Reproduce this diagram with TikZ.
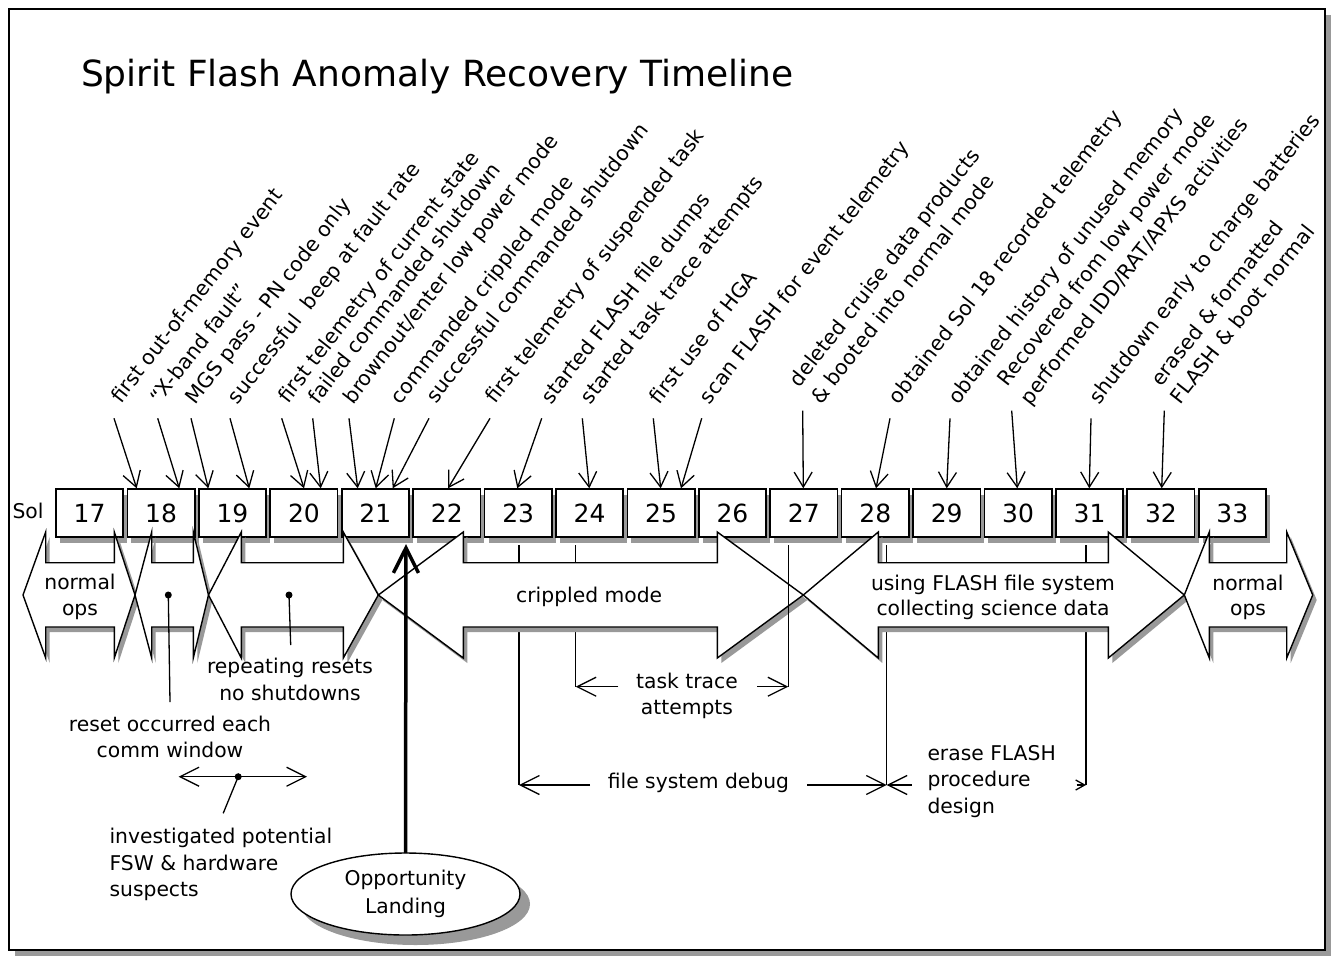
\documentclass[tikz,border=0pt]{standalone}
\usepackage{fontspec}
\setmainfont{DejaVu Sans}
\usetikzlibrary{arrows.meta,shadows,shapes.geometric}
\definecolor{shadowgray}{gray}{0.6}
\begin{document}
\begin{tikzpicture}[x=1pt,y=-1pt,
  every node/.style={inner sep=0pt, outer sep=0pt},
  txt/.style={font=\fontsize{20.3}{24}\selectfont, anchor=base},
  txtl/.style={font=\fontsize{20.3}{24}\selectfont, anchor=base west},
  lbl/.style={font=\fontsize{20.5}{24}\selectfont, anchor=base west, rotate=52},
  solbox/.style={draw, line width=1.7pt, fill=white, minimum width=67.3pt, minimum height=48pt,
    font=\fontsize{25}{28}\selectfont,
    drop shadow={shadow xshift=4pt, shadow yshift=-6pt, fill=shadowgray, opacity=1}},
  ptr/.style={line width=1.3pt, -{Straight Barb[length=15pt,width=18pt]}},
  hptr/.style={line width=1.3pt, -{Straight Barb[length=19pt,width=19pt]}},
  dotn/.style={circle, fill=black, minimum size=7pt},
  bline/.style={line width=1.3pt},
  phase/.style={line width=1.4pt, fill=white},
]
\useasboundingbox (0,0) rectangle (1332,956);
% frame
\fill[shadowgray] (15,15) rectangle (1331,956);
\draw[line width=1.5pt, fill=white] (9,9) rectangle (1325,950);

% title
\node[anchor=base west, font=\fontsize{36}{40}\selectfont] (title) at (81,86) {Spirit Flash Anomaly Recovery Timeline};

% event labels
\node[lbl] (l1) at (121,404) {first out-of-memory event};
\node[lbl] (l2) at (160,405) {“X-band fault”};
\node[lbl] (l3) at (195.5,405) {MGS pass - PN code only};
\node[lbl] (l4) at (237.5,405) {successful\ \ beep at fault rate};
\node[lbl] (l5) at (288,404) {first telemetry of current state};
\node[lbl] (l6) at (318,405) {failed commanded shutdown};
\node[lbl] (l7) at (353,405) {brownout/enter low power mode};
\node[lbl] (l8) at (400.5,405) {commanded crippled mode};
\node[lbl] (l9) at (436,404) {successful commanded shutdown};
\node[lbl] (l10) at (495.5,404.5) {first telemetry of suspended task};
\node[lbl] (l11) at (551,405) {started FLASH file dumps};
\node[lbl] (l12) at (590.5,405) {started task trace attempts};
\node[lbl] (l13) at (659.5,405) {first use of HGA};
\node[lbl] (l14) at (709.5,405) {scan FLASH for event telemetry};
\node[lbl] (l15a) at (799.5,388) {deleted cruise data products};
\node[lbl] (l15b) at (821,405) {\& booted into normal mode};
\node[lbl] (l16) at (898.5,405) {obtained Sol 18 recorded telemetry};
\node[lbl] (l17) at (958,405) {obtained history of unused memory};
\node[lbl] (l18a) at (1007.5,387) {Recovered from low power mode};
\node[lbl] (l18b) at (1030,406) {performed IDD/RAT/APXS activities};
\node[lbl] (l19) at (1099,405) {shutdown early to charge batteries};
\node[lbl] (l20a) at (1161,387) {erased \& formatted};
\node[lbl] (l20b) at (1180.5,405) {FLASH \& boot normal};

% event arrows
\foreach \xa/\ya/\xb/\yb [count=\k] in {114/418.3/136.7/488.3, 157.7/418.3/179.3/488.3,
  191/418.3/208.3/488.3, 230/418.3/249.3/488.3, 281.7/418.3/304/488.3, 312.7/418.3/320.7/488.3,
  349/418.3/357.7/488.3, 394.3/418.3/375.7/488.3, 429/418.3/392.7/488.3, 490/418.3/448/488.3,
  541.7/418.3/517.3/488.3, 582.3/418.3/589.3/488.3, 653.3/418.3/660.7/488.3, 701.7/418.3/681/488.3,
  802.7/410.7/803.3/488.3, 890/418.3/876/488.3, 950/418.3/946.7/488.3, 1011.7/410.7/1017.3/488.3,
  1091/418.3/1089.3/488.3, 1164.3/410.7/1161.7/488.3}
{
  \coordinate (as\k) at (\xa,\ya);
  \coordinate (ae\k) at (\xb,\yb);
  \draw[ptr] (as\k) -- (ae\k);
}

% Sol boxes
\node[txt] (sol) at (28,518.3) {Sol};
\foreach \n [count=\i from 0] in {17,...,33}
  \node[solbox] (b\n) at ({89.65+71.42*\i},513) {\n};

% vertical bracket lines (behind the phase arrows)
\coordinate (v1a) at (519,545);    \coordinate (v1b) at (519,785);
\coordinate (v2a) at (575.7,545);  \coordinate (v2b) at (575.7,686.7);
\coordinate (v4a) at (886.7,545);  \coordinate (v4b) at (886.7,785);
\coordinate (v5a) at (1086,545);   \coordinate (v5b) at (1086,785);
\draw[bline] (v1a) -- (v1b);
\draw[bline] (v2a) -- (v2b);
\draw[bline] (v4a) -- (v4b);
\draw[bline] (v5a) -- (v5b);

% phase arrows: shadows first, then bodies
\foreach \a/\b/\c/\d in {23/45.7/114.3/135, 135/151.7/193.3/208.5, 208.5/241.3/343.3/378.3,
  378.3/463.3/717.3/803.3, 803.3/878.3/1108.3/1184.3, 1184.3/1209.3/1286.7/1312.7}
  \fill[shadowgray, shift={(4,5)}] (\a,595) -- (\b,532) -- (\b,562.7) -- (\c,562.7) -- (\c,532)
    -- (\d,595) -- (\c,658) -- (\c,627) -- (\b,627) -- (\b,658) -- cycle;
\foreach \a/\b/\c/\d in {23/45.7/114.3/135, 135/151.7/193.3/208.5, 208.5/241.3/343.3/378.3,
  378.3/463.3/717.3/803.3, 803.3/878.3/1108.3/1184.3, 1184.3/1209.3/1286.7/1312.7}
  \draw[phase] (\a,595) -- (\b,532) -- (\b,562.7) -- (\c,562.7) -- (\c,532)
    -- (\d,595) -- (\c,658) -- (\c,627) -- (\b,627) -- (\b,658) -- cycle;

% task trace right line, drawn on top
\coordinate (v3a) at (788.3,545);  \coordinate (v3b) at (788.3,686.7);
\draw[bline] (v3a) -- (v3b);

% texts in phase arrows
\node[txt] (n1a) at (80,589.3) {normal};
\node[txt] (n1b) at (80,615) {ops};
\node[txt] (crip) at (589.2,602) {crippled mode};
\node[txt] (fs1) at (993,590) {using FLASH file system};
\node[txt] (fs2) at (993,615) {collecting science data};
\node[txt] (n2a) at (1248,590) {normal};
\node[txt] (n2b) at (1248,615) {ops};

% dots and pointers
\node[dotn] (d1) at (168.3,595) {};
\coordinate (d1e) at (170,702);
\draw[bline] (d1.center) -- (d1e);
\node[dotn] (d2) at (289,595) {};
\coordinate (d2e) at (290.7,645);
\draw[bline] (d2.center) -- (d2e);

\node[txt] (rr1) at (290,673.5) {repeating resets};
\node[txt] (rr2) at (290,700.5) {no shutdowns};
\node[txt] (ro1) at (170,731) {reset occurred each};
\node[txt] (ro2) at (170,757.5) {comm window};

% investigated
\coordinate (ia) at (178.6,776.7);
\coordinate (ib) at (307,776.7);
\draw[line width=1.3pt, {Straight Barb[length=19pt,width=19pt]}-{Straight Barb[length=19pt,width=19pt]}] (ia) -- (ib);
\node[dotn] (d3) at (238.2,776.7) {};
\coordinate (d3e) at (223.2,813.3);
\draw[bline] (d3.center) -- (d3e);
\node[txtl] (iv1) at (109.6,843.5) {investigated potential};
\node[txtl] (iv2) at (109.6,870) {FSW \& hardware};
\node[txtl] (iv3) at (109.6,896) {suspects};

% task trace
\coordinate (tt1) at (618.3,686.7);
\coordinate (tt2) at (757.3,686.7);
\draw[hptr] (tt1) -- (v2b);
\draw[hptr] (tt2) -- (v3b);
\node[txt] (tt3) at (687,688) {task trace};
\node[txt] (tt4) at (687,714) {attempts};

% file system debug
\coordinate (fd1) at (590,785);
\coordinate (fd2) at (807.3,785);
\draw[hptr] (fd1) -- (v1b);
\draw[hptr] (fd2) -- (v4b);
\node[txt] (fd3) at (698.5,788) {file system debug};

% erase FLASH
\coordinate (ef1) at (911.7,785);
\coordinate (ef2) at (1076.7,785);
\draw[hptr] (ef1) -- (v4b);
\draw[line width=1.3pt, -{Straight Barb[length=9pt,width=10pt]}] (ef2) -- (v5b);
\node[txtl] (ef3) at (927.5,760) {erase FLASH};
\node[txtl] (ef4) at (927.5,786.7) {procedure};
\node[txtl] (ef5) at (927.5,813.3) {design};

% Opportunity landing
\node[ellipse, draw, line width=1.4pt, fill=white, minimum width=229pt, minimum height=82pt,
  drop shadow={shadow xshift=10pt, shadow yshift=-10pt, fill=shadowgray, opacity=1},
  align=center, font=\fontsize{20.3}{28.3}\selectfont] (opp) at (405.5,894) {Opportunity\\Landing};
\coordinate (opptip) at (406,544);
\draw[line width=3.5pt, -{Straight Barb[length=25pt,width=25pt]}] (opp.north) -- (opptip);
\end{tikzpicture}
\end{document}
